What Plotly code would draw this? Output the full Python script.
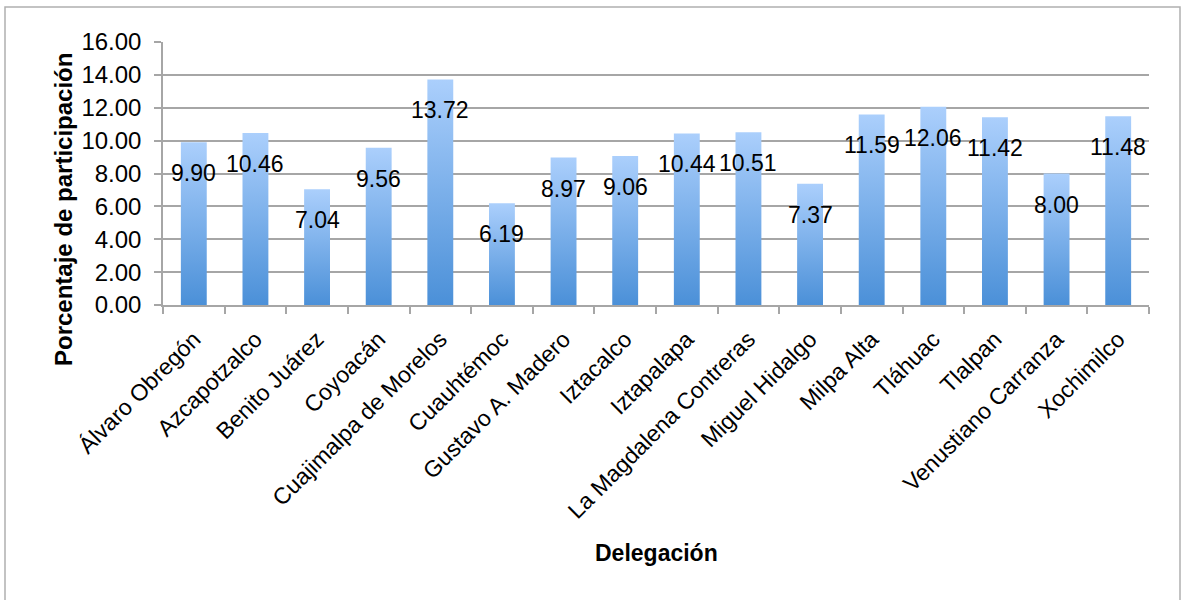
import plotly.graph_objects as go

# Participación por delegación (%)
delegaciones = [
    "Álvaro Obregón", "Azcapotzalco", "Benito Juárez", "Coyoacán",
    "Cuajimalpa de Morelos", "Cuauhtémoc", "Gustavo A. Madero", "Iztacalco",
    "Iztapalapa", "La Magdalena Contreras", "Miguel Hidalgo", "Milpa Alta",
    "Tláhuac", "Tlalpan", "Venustiano Carranza", "Xochimilco",
]
participacion = [
    9.90, 10.46, 7.04, 9.56, 13.72, 6.19, 8.97, 9.06,
    10.44, 10.51, 7.37, 11.59, 12.06, 11.42, 8.00, 11.48,
]
y_ticks = [0, 2, 4, 6, 8, 10, 12, 14, 16]

W, H = 1181, 600
M_L, M_R, M_T, M_B = 163, 32, 42, 295
BAR_HALF = 0.21
FONT = "Liberation Sans, Arial, sans-serif"
GRID = "#a6a6a6"

fig = go.Figure()

# Each bar is a filled polygon so it can carry a vertical gradient
for i, v in enumerate(participacion):
    fig.add_trace(go.Scatter(
        x=[i - BAR_HALF, i + BAR_HALF, i + BAR_HALF, i - BAR_HALF, i - BAR_HALF],
        y=[0, 0, v, v, 0],
        mode="lines",
        line=dict(width=0, color="rgba(0,0,0,0)"),
        fill="toself",
        fillgradient=dict(
            type="vertical",
            colorscale=[[0, "#4b90d8"], [1, "#abcffc"]],
        ),
        hoverinfo="text",
        text=f"{delegaciones[i]}: {v:.2f}",
        showlegend=False,
    ))

# Value labels sit a little below each bar top
for i, v in enumerate(participacion):
    fig.add_annotation(
        x=i, y=v, yshift=-31, text=f"{v:.2f}", showarrow=False,
        font=dict(family=FONT, size=23, color="#000000"),
        xanchor="center", yanchor="middle",
    )

pw = W - M_L - M_R
ph = H - M_T - M_B

# Outer chart frame
fig.add_shape(
    type="rect", xref="paper", yref="paper",
    x0=(5 - M_L) / pw, x1=(1180 - M_L) / pw,
    y0=(H - M_B - 605) / ph, y1=(H - M_B - 7) / ph,
    line=dict(color="#b0b0b0", width=1.5), fillcolor="rgba(0,0,0,0)",
    layer="below",
)

# Axis titles
fig.add_annotation(
    text="<b>Porcentaje de participación</b>", textangle=-90,
    xref="paper", yref="paper",
    x=(63 - M_L) / pw, y=(H - M_B - 210) / ph,
    showarrow=False, font=dict(family=FONT, size=24, color="#000000"),
    xanchor="center", yanchor="middle",
)
fig.add_annotation(
    text="<b>Delegación</b>",
    xref="paper", yref="paper",
    x=(656 - M_L) / pw, y=(H - M_B - 553) / ph,
    showarrow=False, font=dict(family=FONT, size=23, color="#000000"),
    xanchor="center", yanchor="middle",
)

fig.update_layout(
    width=W, height=H,
    margin=dict(l=M_L, r=M_R, t=M_T, b=M_B, autoexpand=False),
    paper_bgcolor="white", plot_bgcolor="white",
    font=dict(family=FONT, size=23, color="#000000"),
    showlegend=False,
)
fig.update_xaxes(
    range=[-0.5, len(delegaciones) - 0.5],
    tickmode="array", tickvals=list(range(len(delegaciones))),
    ticktext=delegaciones, tickangle=-45,
    ticks="", showgrid=False, zeroline=False,
    showline=True, linecolor=GRID, linewidth=1.5,
    tickfont=dict(family=FONT, size=23, color="#000000"),
    ticklabelstandoff=10,
    minor=dict(ticks="outside", tick0=-0.5, dtick=1, ticklen=7,
               tickcolor=GRID, tickwidth=1.5, showgrid=False),
    automargin=False, fixedrange=True,
)
fig.update_yaxes(
    range=[0, 16], tickmode="array", tickvals=y_ticks,
    ticktext=[f"{t:.2f}" for t in y_ticks],
    ticks="outside", ticklen=7, tickcolor=GRID, tickwidth=1.5,
    showgrid=True, gridcolor=GRID, gridwidth=1.5,
    zeroline=False, showline=True, linecolor=GRID, linewidth=1.5,
    tickfont=dict(family=FONT, size=24, color="#000000"),
    ticklabelstandoff=8,
    automargin=False, fixedrange=True,
)

fig.write_html("out.html")
